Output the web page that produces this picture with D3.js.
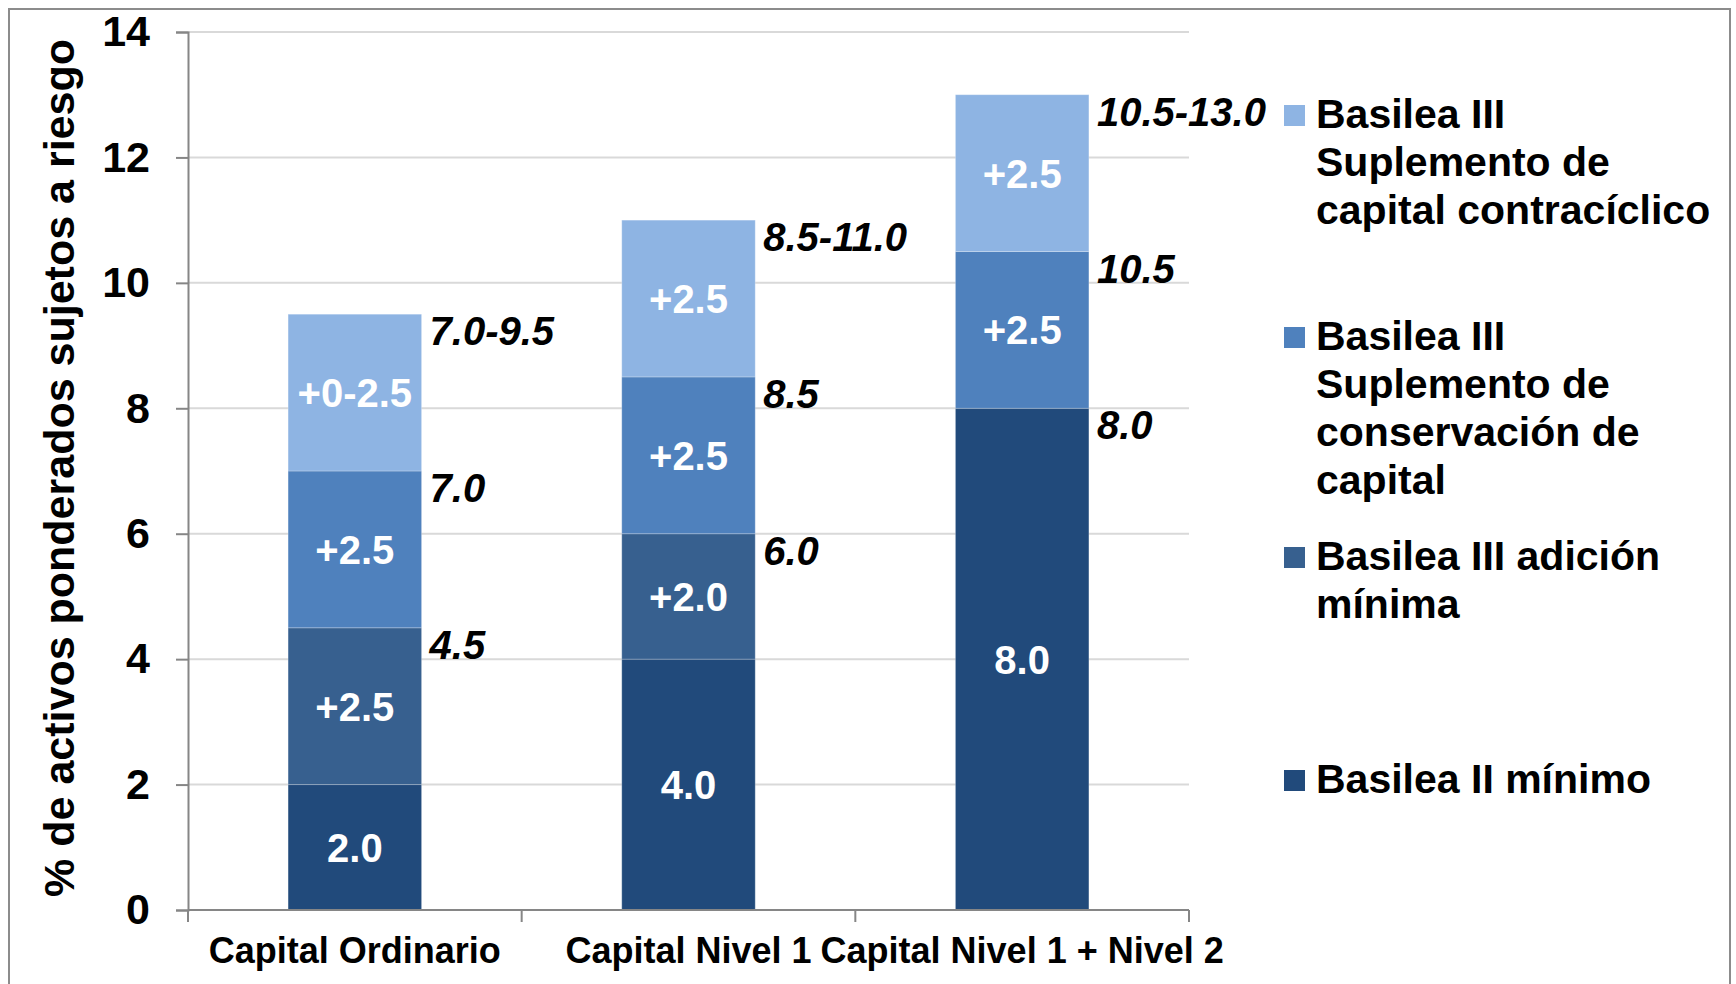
<!DOCTYPE html>
<html>
<head>
<meta charset="utf-8">
<script src="https://cdn.jsdelivr.net/npm/d3@7"></script>
<style>
  body { margin: 0; background: #fff; }
  text { font-family: "Liberation Sans", Arial, sans-serif; font-weight: bold; }
</style>
</head>
<body>
<svg id="chart" width="1736" height="984"></svg>
<script>
const svg = d3.select("#chart");

// categories and series (stacked from the bottom up)
const categories = ["Capital Ordinario", "Capital Nivel 1", "Capital Nivel 1 + Nivel 2"];
const minimo = [2.0, 4.0, 8.0];
const adicion = [2.5, 2.0, 0];
const conservacion = [2.5, 2.5, 2.5];
const contraciclico = [2.5, 2.5, 2.5];

// labels inside each segment
const minimoLabels = ["2.0", "4.0", "8.0"];
const adicionLabels = ["+2.5", "+2.0", ""];
const conservacionLabels = ["+2.5", "+2.5", "+2.5"];
const contraciclicoLabels = ["+0-2.5", "+2.5", "+2.5"];

// labels at the top of each segment, right of the bar
const adicionTops = ["4.5", "6.0", "8.0"];
const conservacionTops = ["7.0", "8.5", "10.5"];
const contraciclicoTops = ["7.0-9.5", "8.5-11.0", "10.5-13.0"];

const yTicks = [0, 2, 4, 6, 8, 10, 12, 14];

const series = [
  { key: "minimo", values: minimo, labels: minimoLabels, tops: null, color: "#214a7b",
    legend: ["Basilea II mínimo"] },
  { key: "adicion", values: adicion, labels: adicionLabels, tops: adicionTops, color: "#37608f",
    legend: ["Basilea III adición", "mínima"] },
  { key: "conservacion", values: conservacion, labels: conservacionLabels, tops: conservacionTops, color: "#4f81bd",
    legend: ["Basilea III", "Suplemento de", "conservación de", "capital"] },
  { key: "contraciclico", values: contraciclico, labels: contraciclicoLabels, tops: contraciclicoTops, color: "#8eb4e3",
    legend: ["Basilea III", "Suplemento de", "capital contracíclico"] }
];

// outer frame
svg.append("rect")
  .attr("x", 9).attr("y", 9)
  .attr("width", 1721).attr("height", 1000)
  .attr("fill", "none")
  .attr("stroke", "#8c8c8c")
  .attr("stroke-width", 2);

const x = d3.scaleBand().domain(categories).range([188, 1189]).padding(0);
const y = d3.scaleLinear().domain([0, 14]).range([910, 32]);
const barW = x.bandwidth() * 0.4;

// gridlines
svg.append("g")
  .selectAll("line")
  .data(yTicks.filter(d => d > 0))
  .join("line")
  .attr("x1", 188).attr("x2", 1189)
  .attr("y1", d => y(d)).attr("y2", d => y(d))
  .attr("stroke", "#d9d9d9")
  .attr("stroke-width", 2);

// stacked data
const table = categories.map((c, i) => {
  const row = { cat: c };
  series.forEach(s => row[s.key] = s.values[i]);
  return row;
});
const stacked = d3.stack().keys(series.map(s => s.key))(table);

const layers = svg.append("g")
  .selectAll("g")
  .data(stacked)
  .join("g")
  .attr("fill", (d, i) => series[i].color);

layers.selectAll("rect")
  .data(d => d)
  .join("rect")
  .attr("x", d => x(d.data.cat) + (x.bandwidth() - barW) / 2)
  .attr("y", d => y(d[1]))
  .attr("width", barW)
  .attr("height", d => y(d[0]) - y(d[1]))
  .attr("stroke", "rgba(255,255,255,0.25)")
  .attr("stroke-width", 1);

// labels inside segments
stacked.forEach((layer, si) => {
  svg.append("g")
    .selectAll("text")
    .data(layer)
    .join("text")
    .attr("x", d => x(d.data.cat) + x.bandwidth() / 2)
    .attr("y", d => y((d[0] + d[1]) / 2))
    .attr("dy", "0.36em")
    .attr("text-anchor", "middle")
    .attr("fill", "#fff")
    .attr("font-size", 40)
    .text((d, i) => series[si].labels[i]);
});

// labels at the top of segments
stacked.forEach((layer, si) => {
  if (!series[si].tops) return;
  svg.append("g")
    .selectAll("text")
    .data(layer)
    .join("text")
    .attr("x", d => x(d.data.cat) + (x.bandwidth() + barW) / 2 + 8)
    .attr("y", d => y(d[1]) + 31)
    .attr("font-style", "italic")
    .attr("fill", "#000")
    .attr("font-size", 40)
    .text((d, i) => series[si].tops[i]);
});

// y axis
const yAxis = svg.append("g")
  .attr("transform", "translate(188,0)")
  .call(d3.axisLeft(y).tickValues(yTicks).tickSize(12).tickPadding(26).tickFormat(d3.format("d")));
yAxis.select(".domain").attr("stroke", "#868686").attr("stroke-width", 2);
yAxis.selectAll(".tick line").attr("stroke", "#868686").attr("stroke-width", 2);
yAxis.selectAll(".tick text")
  .attr("font-size", 43)
  .attr("font-family", "\"Liberation Sans\", Arial, sans-serif")
  .attr("font-weight", "bold")
  .attr("fill", "#000");

// x axis: baseline plus ticks at band boundaries
const bounds = categories.map(c => x(c)).concat([x.range()[1]]);
svg.append("line")
  .attr("x1", 188).attr("x2", 1189)
  .attr("y1", y(0)).attr("y2", y(0))
  .attr("stroke", "#868686").attr("stroke-width", 2);
svg.append("g")
  .selectAll("line")
  .data(bounds)
  .join("line")
  .attr("x1", d => d).attr("x2", d => d)
  .attr("y1", y(0)).attr("y2", y(0) + 12)
  .attr("stroke", "#868686").attr("stroke-width", 2);

svg.append("g")
  .selectAll("text")
  .data(categories)
  .join("text")
  .attr("x", d => x(d) + x.bandwidth() / 2)
  .attr("y", 963)
  .attr("text-anchor", "middle")
  .attr("font-size", 36)
  .attr("fill", "#000")
  .text(d => d);

// y axis title
svg.append("text")
  .attr("transform", "translate(74," + (y(7) - 3) + ") rotate(-90)")
  .attr("text-anchor", "middle")
  .attr("font-size", 43)
  .attr("fill", "#000")
  .text("% de activos ponderados sujetos a riesgo");

// legend
const legendTops = [793, 570, 350, 128];
const lineH = 48;
series.forEach((s, i) => {
  const g = svg.append("g");
  g.append("rect")
    .attr("x", 1284).attr("y", legendTops[i] - 23)
    .attr("width", 21).attr("height", 21)
    .attr("fill", s.color);
  g.selectAll("text")
    .data(s.legend)
    .join("text")
    .attr("x", 1316)
    .attr("y", (d, j) => legendTops[i] + j * lineH)
    .attr("font-size", 41)
    .attr("fill", "#000")
    .text(d => d);
});
</script>
</body>
</html>
